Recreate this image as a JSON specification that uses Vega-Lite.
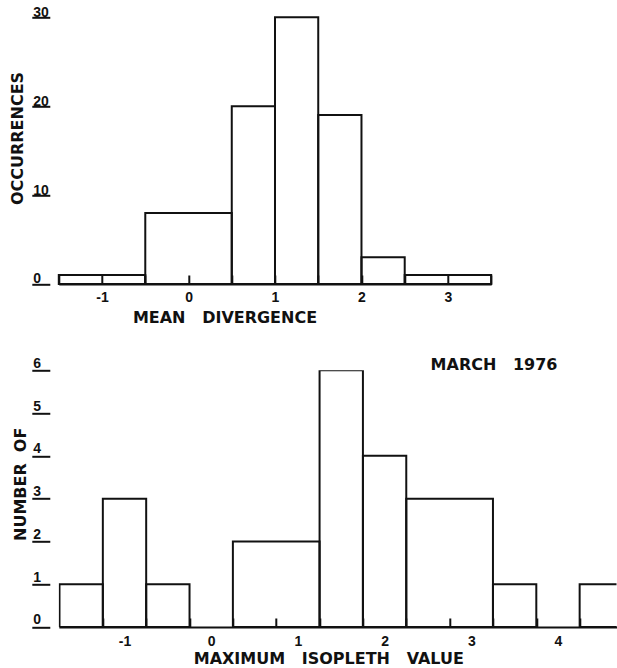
{
  "$schema": "https://vega.github.io/schema/vega-lite/v6.json",
  "background": "white",
  "padding": {"left": 9.8, "top": 5.3, "right": 0, "bottom": 0},
  "bounds": "flush",
  "spacing": 86,
  "config": {
    "view": {"stroke": null},
    "axis": {
      "grid": false,
      "domainColor": "#111",
      "domainWidth": 2,
      "tickColor": "#111",
      "tickWidth": 2,
      "labelFont": "Liberation Sans",
      "labelFontSize": 14,
      "labelFontWeight": "bold",
      "labelColor": "#111",
      "labelFlush": false,
      "labelOverlap": false,
      "titleFont": "DejaVu Sans",
      "titleFontSize": 16,
      "titleFontWeight": "bold",
      "titleColor": "#111"
    }
  },
  "vconcat": [
    {
      "width": 432.4,
      "height": 266.7,
      "data": {"values": [
        {"lo": -1.5, "hi": -0.5, "n": 1},
        {"lo": -0.5, "hi": 0.5, "n": 8},
        {"lo": 0.5, "hi": 1.0, "n": 20},
        {"lo": 1.0, "hi": 1.5, "n": 30},
        {"lo": 1.5, "hi": 2.0, "n": 19},
        {"lo": 2.0, "hi": 2.5, "n": 3},
        {"lo": 2.5, "hi": 3.5, "n": 1}
      ]},
      "mark": {"type": "rect", "fillOpacity": 0, "stroke": "#111", "strokeWidth": 2},
      "encoding": {
        "x": {
          "field": "lo", "type": "quantitative",
          "scale": {"domain": [-1.5, 3.5], "nice": false, "zero": false},
          "axis": {
            "title": "MEAN\u00a0\u00a0\u00a0DIVERGENCE",
            "values": [-1.5, -1, -0.5, 0, 0.5, 1, 1.5, 2, 2.5, 3, 3.5],
            "labelExpr": "datum.value % 1 === 0 ? '' + datum.value : ''",
            "labelOverlap": false,
            "tickSize": -9,
            "labelPadding": 23,
            "labelBaseline": "middle",
            "titleX": 165.7,
            "titleY": 33.5,
            "titleAlign": "center",
            "titleBaseline": "middle"
          }
        },
        "x2": {"field": "hi"},
        "y": {
          "field": "n", "type": "quantitative",
          "scale": {"domain": [0, 30], "nice": false},
          "axis": {
            "title": "OCCURRENCES",
            "values": [0, 10, 20, 30],
            "labelOverlap": false,
            "domain": false,
            "offset": 9,
            "tickSize": 18,
            "labelAlign": "left",
            "labelPadding": -1,
            "labelBaseline": "middle",
            "labelOffset": -5,
            "titleAngle": -90,
            "titleX": -31.8,
            "titleY": 120.7,
            "titleAlign": "center",
            "titleBaseline": "middle"
          }
        },
        "y2": {"datum": 0}
      }
    },
    {
      "width": 557.7,
      "height": 256.7,
      "title": {
        "text": "MARCH\u00a0\u00a0\u00a01976",
        "anchor": "end",
        "frame": "group",
        "orient": "top",
        "baseline": "middle",
        "offset": 0,
        "dx": -59,
        "dy": 25,
        "font": "DejaVu Sans",
        "fontSize": 16,
        "fontWeight": "bold",
        "color": "#111"
      },
      "data": {"values": [
        {"lo": -1.75, "hi": -1.25, "n": 1},
        {"lo": -1.25, "hi": -0.75, "n": 3},
        {"lo": -0.75, "hi": -0.25, "n": 1},
        {"lo": 0.25, "hi": 1.25, "n": 2},
        {"lo": 1.25, "hi": 1.75, "n": 6},
        {"lo": 1.75, "hi": 2.25, "n": 4},
        {"lo": 2.25, "hi": 3.25, "n": 3},
        {"lo": 3.25, "hi": 3.75, "n": 1},
        {"lo": 4.25, "hi": 4.75, "n": 1}
      ]},
      "mark": {"type": "rect", "fillOpacity": 0, "stroke": "#111", "strokeWidth": 2, "clip": true},
      "encoding": {
        "x": {
          "field": "lo", "type": "quantitative",
          "scale": {"domain": [-1.758, 4.675], "nice": false, "zero": false},
          "axis": {
            "title": "MAXIMUM\u00a0\u00a0\u00a0ISOPLETH\u00a0\u00a0\u00a0VALUE",
            "values": [-1.25, -1, -0.75, -0.25, 0, 0.25, 0.75, 1, 1.25, 1.75, 2, 2.25, 2.75, 3, 3.25, 3.75, 4, 4.25],
            "labelExpr": "datum.value % 1 === 0 ? '' + datum.value : ''",
            "labelOverlap": false,
            "tickOpacity": {"condition": {"test": "datum.value % 1 === 0", "value": 0}, "value": 1},
            "tickSize": -9,
            "labelPadding": 24,
            "labelBaseline": "middle",
            "titleX": 269.5,
            "titleY": 31.8,
            "titleAlign": "center",
            "titleBaseline": "middle"
          }
        },
        "x2": {"field": "hi"},
        "y": {
          "field": "n", "type": "quantitative",
          "scale": {"domain": [0, 6], "nice": false},
          "axis": {
            "title": "NUMBER\u00a0\u00a0OF",
            "values": [0, 1, 2, 3, 4, 5, 6],
            "labelOverlap": false,
            "domain": false,
            "offset": 9,
            "tickSize": 18,
            "labelAlign": "left",
            "labelPadding": -1,
            "labelBaseline": "middle",
            "labelOffset": -7,
            "titleAngle": -90,
            "titleX": -29,
            "titleY": 113.5,
            "titleAlign": "center",
            "titleBaseline": "middle"
          }
        },
        "y2": {"datum": 0}
      }
    }
  ]
}
